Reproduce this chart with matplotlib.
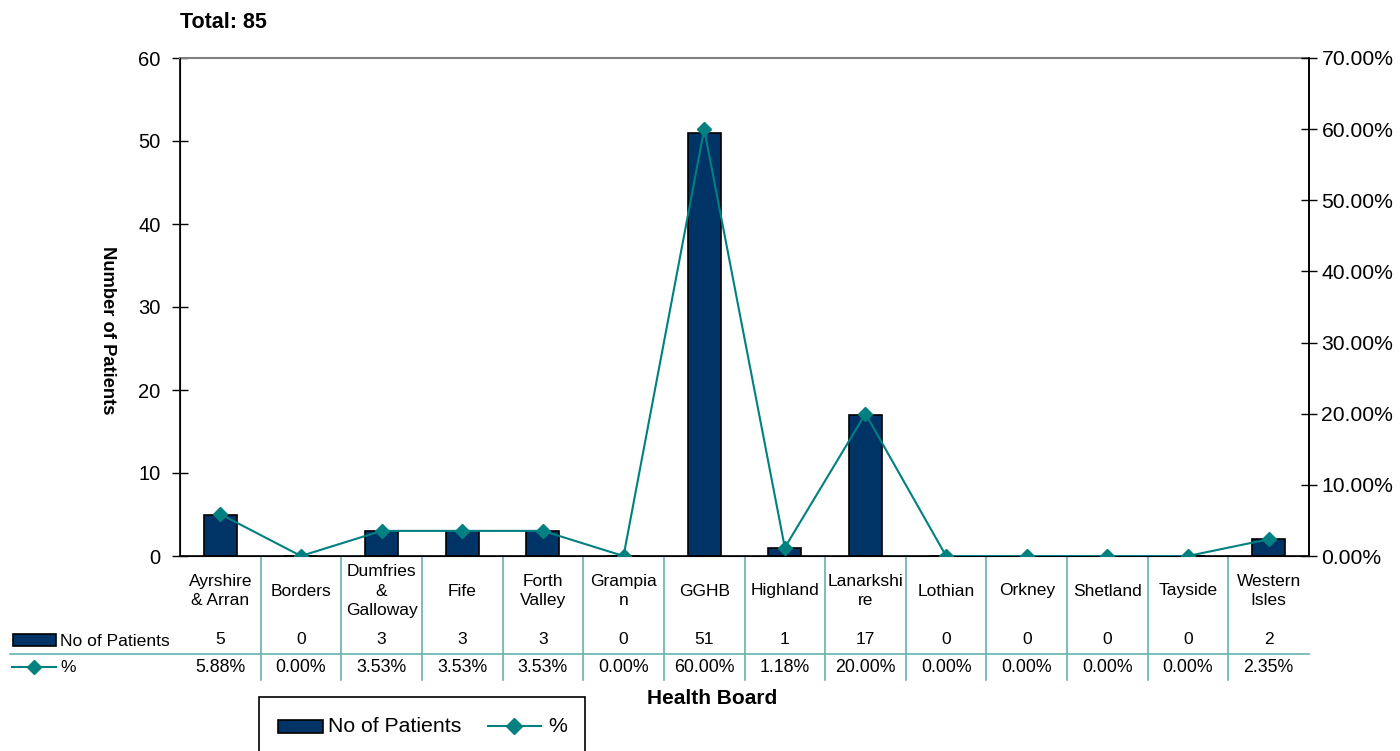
import matplotlib
matplotlib.use("Agg")
import matplotlib.pyplot as plt
from matplotlib.patches import Rectangle
from matplotlib.lines import Line2D
from matplotlib.transforms import blended_transform_factory

plt.rcParams['font.family'] = ['Liberation Sans', 'DejaVu Sans']

categories = ["Ayrshire\n& Arran", "Borders", "Dumfries\n&\nGalloway", "Fife", "Forth\nValley",
              "Grampia\nn", "GGHB", "Highland", "Lanarkshi\nre", "Lothian", "Orkney",
              "Shetland", "Tayside", "Western\nIsles"]
patients = [5, 0, 3, 3, 3, 0, 51, 1, 17, 0, 0, 0, 0, 2]
percent = [5.88, 0.00, 3.53, 3.53, 3.53, 0.00, 60.00, 1.18, 20.00, 0.00, 0.00, 0.00, 0.00, 2.35]
left_ticks = [0, 10, 20, 30, 40, 50, 60]
right_ticks = [0, 10, 20, 30, 40, 50, 60, 70]

W, H = 1400, 751
BAR = "#003366"
TEAL = "#008080"
GRID = "#66B2B2"

fig = plt.figure(figsize=(14, 7.51), dpi=100)
def fx(px): return px / W
def fy(py): return 1 - py / H

L, R, T, B = 180, 1309, 58, 556
ax = fig.add_axes([fx(L), fy(B), fx(R - L), fy(T) - fy(B)])
n = len(categories)
xs = list(range(n))
ax.bar(xs, patients, width=0.41, color=BAR, edgecolor="black", linewidth=1.2, zorder=2)
ax.set_xlim(-0.5, n - 0.5)
ax.set_ylim(0, 60)
ax.set_yticks(left_ticks)
ax.set_xticks([])
ax.tick_params(axis='y', direction='inout', length=12, labelsize=14.5, width=1, pad=8)
ax.spines['top'].set_color('#808080')
ax.spines['top'].set_linewidth(1.5)
for s in ['left', 'bottom', 'right']:
    ax.spines[s].set_linewidth(1.2)

ax2 = ax.twinx()
ax2.plot(xs, percent, color=TEAL, marker='D', markersize=7.5, linewidth=1.5, zorder=3)
ax2.set_ylim(0, 70)
ax2.set_yticks(right_ticks)
ax2.set_yticklabels([f"{v:.2f}%" for v in right_ticks])
ax2.tick_params(axis='y', direction='inout', length=12, labelsize=15.2, width=1, pad=3)
ax2.spines['top'].set_visible(False)
ax2.spines['right'].set_linewidth(1.2)

# data table
tr = blended_transform_factory(ax.transData, fig.transFigure)
for i in range(n - 1):
    ax.add_line(Line2D([i + 0.5, i + 0.5], [fy(556), fy(680)], transform=tr, color=GRID,
                       linewidth=1.2, clip_on=False))
fig.add_artist(Line2D([fx(10), fx(1309)], [fy(654), fy(654)], color=GRID, linewidth=1.2))
for i in range(n):
    ax.text(i, fy(591), categories[i], transform=tr, ha='center', va='center',
            fontsize=12.5, linespacing=1.35)
    ax.text(i, fy(640), str(patients[i]), transform=tr, ha='center', va='center', fontsize=12.5)
    ax.text(i, fy(667), f"{percent[i]:.2f}%", transform=tr, ha='center', va='center', fontsize=12.8)

# row labels
fig.add_artist(Rectangle((fx(13), fy(646)), fx(43), fy(634) - fy(646), facecolor=BAR,
                         edgecolor='black', linewidth=1.2))
fig.text(fx(60), fy(641), "No of Patients", ha='left', va='center', fontsize=12.6)
fig.add_artist(Line2D([fx(12), fx(56)], [fy(667), fy(667)], color=TEAL, linewidth=1.5))
fig.add_artist(Line2D([fx(34)], [fy(667)], color=TEAL, marker='D', markersize=7, linestyle='none'))
fig.text(fx(60), fy(668), "%", ha='left', va='center', fontsize=12.6)

# titles
fig.text(fx(180), fy(22), "Total: 85", ha='left', va='center', fontsize=15.5, fontweight='bold')
fig.text(fx(712), fy(698), "Health Board", ha='center', va='center', fontsize=15, fontweight='bold')
fig.text(fx(107), fy(330), "Number of Patients", ha='center', va='center', fontsize=13.2,
         fontweight='bold', rotation=-90)

# legend box
fig.add_artist(Rectangle((fx(259), fy(770)), fx(585 - 259), fy(697) - fy(770), facecolor='white',
                         edgecolor='black', linewidth=1.2))
fig.add_artist(Rectangle((fx(278), fy(733)), fx(45), fy(720) - fy(733), facecolor=BAR,
                         edgecolor='black', linewidth=1.2))
fig.text(fx(328), fy(727), "No of Patients", ha='left', va='center', fontsize=15.3)
fig.add_artist(Line2D([fx(488), fx(541)], [fy(726), fy(726)], color=TEAL, linewidth=1.5))
fig.add_artist(Line2D([fx(514)], [fy(726)], color=TEAL, marker='D', markersize=8, linestyle='none'))
fig.text(fx(548), fy(727), "%", ha='left', va='center', fontsize=15.3)

fig.savefig("out.png", dpi=100)
